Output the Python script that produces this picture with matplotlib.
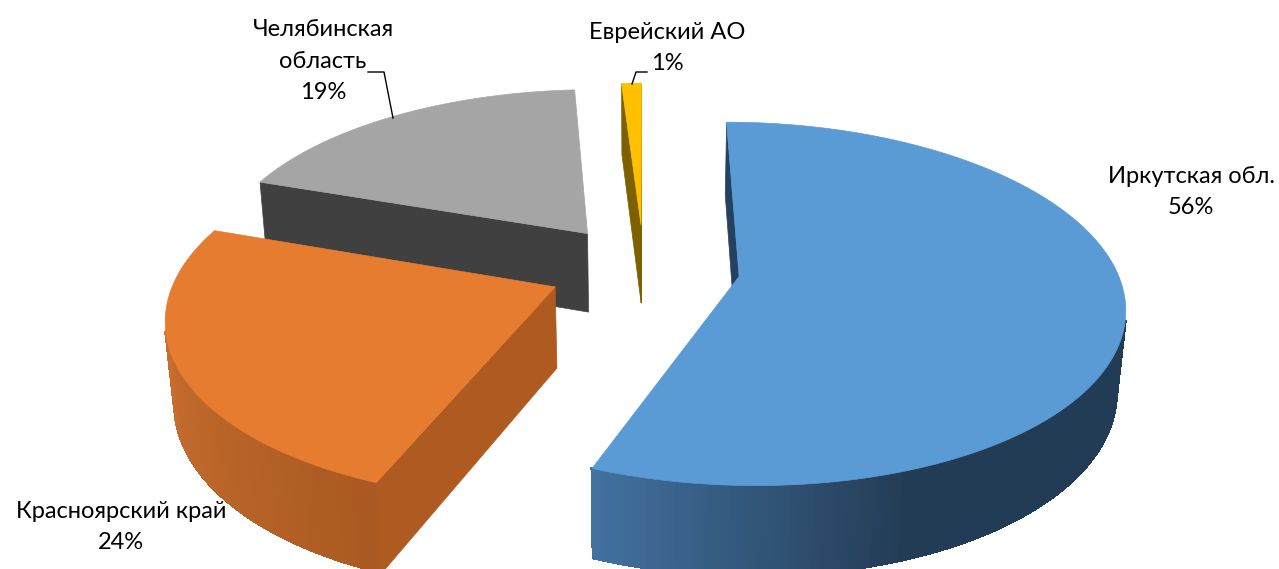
import numpy as np
import matplotlib
matplotlib.use('Agg')
import matplotlib.pyplot as plt

plt.rcParams['font.family'] = ['Lato', 'Noto Sans', 'DejaVu Sans']

# data
names = ['Иркутская обл.', 'Красноярский край', 'Челябинская\nобласть', 'Еврейский АО']
shares = [56, 24.3, 18.7, 1]
top_colors = ['#5B9BD5', '#E67C2F', '#A5A5A5', '#FFC000']
wall_colors = ['#24425F', '#AE5A21', '#404040', '#7F6000']
# rim shading: angle (deg, clockwise from north) -> rgb
rim_angles = [[160, 201.6], [205, 270], [288, 356], [356, 360]]
rim_rgb = [[(35, 60, 85), (66, 113, 160)],
           [(172, 90, 35), (206, 115, 50)],
           [(64, 64, 64), (64, 64, 64)],
           [(127, 96, 0), (127, 96, 0)]]

# camera
cx, cy = 644, 268
F, Fs = 377, 175
k = 0.15
explode = 0.255
height = 0.245


def project(x, y, z):
    c = np.sqrt(1 - (Fs / F) ** 2)
    w = 1 + k * y - k * (Fs / F) / c * z
    sx = cx + F * x / w
    sy = cy - (Fs * y + F * c * z) / w
    return sx, sy


def area(xs, ys):
    return 0.5 * np.sum(xs * np.roll(ys, -1) - np.roll(xs, -1) * ys)


fig = plt.figure(figsize=(12.79, 5.69), dpi=100)
ax = fig.add_axes([0, 0, 1, 1])
ax.set_xlim(0, 1279)
ax.set_ylim(569, 0)
ax.axis('off')

edges = np.concatenate([[0], np.cumsum(shares)]) / sum(shares) * 360

# back slices first
z = 2
for i in [2, 3, 1, 0]:
    a0, a1 = edges[i], edges[i + 1]
    mid = np.radians((a0 + a1) / 2)
    ox, oy = explode * np.sin(mid), explode * np.cos(mid)
    ang = np.linspace(a0, a1, max(int(a1 - a0) + 2, 2))
    rx = ox + np.sin(np.radians(ang))
    ry = oy + np.cos(np.radians(ang))

    # outer rim, one strip per step so it can be shaded
    for j in range(len(ang) - 1):
        px = np.array([rx[j], rx[j + 1], rx[j + 1], rx[j]])
        py = np.array([ry[j], ry[j + 1], ry[j + 1], ry[j]])
        pz = np.array([0, 0, -height, -height])
        sx, sy = project(px, py, pz)
        if area(sx, sy) > 0:
            continue
        am = (ang[j] + ang[j + 1]) / 2
        rgb = [np.interp(am, rim_angles[i], [rim_rgb[i][0][n], rim_rgb[i][1][n]]) / 255 for n in range(3)]
        ax.fill(sx, sy, facecolor=rgb, edgecolor=rgb, lw=1.5, antialiased=False, zorder=z)

    # cut walls
    for j in [0, -1]:
        px = np.array([ox, rx[j], rx[j], ox])
        py = np.array([oy, ry[j], ry[j], oy])
        pz = np.array([0, 0, -height, -height])
        sx, sy = project(px, py, pz)
        if (area(sx, sy) < 0) == (j == 0):
            ax.fill(sx, sy, color=wall_colors[i], lw=0.5, zorder=z)

    # top face
    sx, sy = project(np.r_[ox, rx], np.r_[oy, ry], np.zeros(len(rx) + 1))
    ax.fill(sx, sy, color=top_colors[i], lw=0.5, zorder=z)
    z += 1

# leader lines
ax.plot([368, 384, 393], [72, 72, 118], color='black', lw=1, zorder=20)
ax.plot([632, 636, 647], [84, 72, 72], color='black', lw=1, zorder=20)

# labels
label_pos = [(1191, 192), (121, 527), (323, 61), (667, 48)]
for name, share, pos in zip(names, shares, label_pos):
    ax.text(pos[0], pos[1], name + '\n' + str(round(share)) + '%', ha='center', va='center',
            fontsize=17, linespacing=1.6, color='black', zorder=30)

plt.savefig('out.png', dpi=100)
